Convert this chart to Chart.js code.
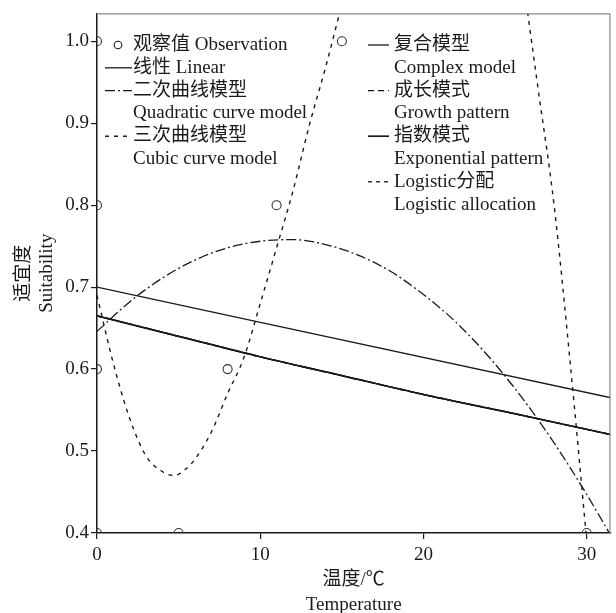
<!DOCTYPE html>
<html>
<head>
<meta charset="utf-8">
<script src="https://cdn.jsdelivr.net/npm/chart.js@4"></script>
<style>
html, body { margin: 0; padding: 0; background: #fff; }
#wrap { width: 616px; height: 613px; }
</style>
</head>
<body>
<div id="wrap"><canvas id="myChart"></canvas></div>
<script>
// observed suitability
var obsTemp = [0, 0, 0, 0, 5, 8, 11, 15, 30];
var obsSuit = [1.0, 0.8, 0.6, 0.4, 0.4, 0.6, 0.8, 1.0, 0.4];

// linear fit
var linTemp = [0, 31.5];
var linSuit = [0.700, 0.565];

// quadratic fit
var quadTemp = [0, 2, 4, 6, 8, 10, 12, 14, 16, 18, 20, 22, 24, 26, 28, 30, 31.5];
var quadSuit = [0.646, 0.682, 0.711, 0.733, 0.748, 0.756, 0.758, 0.752, 0.739, 0.719, 0.691, 0.657, 0.615, 0.566, 0.510, 0.447, 0.396];

// cubic fit (null where it is above the frame)
var cubTemp = [0, 1, 2, 3, 4, 4.7, 5.5, 6, 7, 8, 9, 10, 11, 12, 13, 14, 15, 16, 21, 26, 27, 28, 29, 30, 30.5];
var cubSuit = [0.690, 0.607, 0.540, 0.494, 0.475, 0.470, 0.479, 0.490, 0.523, 0.570, 0.614, 0.680, 0.748, 0.817, 0.897, 0.968, 1.045, 1.12, null, 1.09, 0.945, 0.80, 0.605, 0.39, 0.28];

// complex / growth / exponential / logistic (all on top of each other)
var expTemp = [0, 5, 10, 15, 20, 25, 31.5];
var expSuit = [0.665, 0.640, 0.615, 0.592, 0.569, 0.548, 0.520];

var xTicks = [0, 10, 20, 30];
var yTicks = [0.4, 0.5, 0.6, 0.7, 0.8, 0.9, 1.0];

var legendCn = ['观察值 Observation', '线性 Linear', '二次曲线模型', '三次曲线模型', '复合模型', '成长模式', '指数模式', 'Logistic分配'];
var legendEn = ['', '', 'Quadratic curve model', 'Cubic curve model', 'Complex model', 'Growth pattern', 'Exponential pattern', 'Logistic allocation'];

function pts(xs, ys) {
    return xs.map(function (x, i) { return {x: x, y: ys[i]}; });
}

var serif = '"Liberation Serif", "Noto Sans CJK SC", serif';
var ink = '#1a1a1a';

function curve(label, xs, ys, dash, width) {
    return {
        label: label,
        data: pts(xs, ys),
        showLine: true,
        borderColor: ink,
        backgroundColor: ink,
        borderWidth: width,
        borderDash: dash,
        pointRadius: 0,
        pointHoverRadius: 0,
        cubicInterpolationMode: 'monotone',
        spanGaps: false
    };
}

var data = {
    datasets: [
        {
            label: legendCn[0],
            data: pts(obsTemp, obsSuit),
            pointStyle: 'circle',
            pointRadius: 4.5,
            borderWidth: 1.1,
            borderColor: '#333',
            backgroundColor: 'rgba(255,255,255,0)'
        },
        curve(legendCn[1], linTemp, linSuit, [], 1.3),
        curve(legendCn[2], quadTemp, quadSuit, [10, 3, 2, 3], 1.3),
        curve(legendCn[3], cubTemp, cubSuit, [4, 5], 1.4),
        curve(legendCn[4], expTemp, expSuit, [], 1.3),
        curve(legendCn[5], expTemp, expSuit, [6, 4], 1.3),
        curve(legendCn[6], expTemp, expSuit, [], 1.7),
        curve(legendCn[7], expTemp, expSuit, [4, 4], 1.3)
    ]
};

// legend placement: symbol start, text start, row index
var legendPos = [
    {sx: 112, tx: 133, row: 0, col: 0},
    {sx: 105, tx: 133, row: 1, col: 0},
    {sx: 105, tx: 133, row: 2, col: 0},
    {sx: 105, tx: 133, row: 4, col: 0},
    {sx: 368, tx: 394, row: 0, col: 1},
    {sx: 368, tx: 394, row: 2, col: 1},
    {sx: 368, tx: 394, row: 4, col: 1},
    {sx: 368, tx: 394, row: 6, col: 1}
];

const framePlugin = {
    id: 'frameLegend',
    afterDraw: function (chart) {
        var ctx = chart.ctx;
        var a = chart.chartArea;
        ctx.save();
        // top and right frame
        ctx.strokeStyle = '#8a8a8a';
        ctx.lineWidth = 1.2;
        ctx.beginPath();
        ctx.moveTo(a.left, a.top + 0.5);
        ctx.lineTo(a.right - 0.5, a.top + 0.5);
        ctx.lineTo(a.right - 0.5, a.bottom);
        ctx.stroke();

        // legend
        ctx.font = '19px ' + serif;
        ctx.fillStyle = ink;
        ctx.textBaseline = 'middle';
        ctx.textAlign = 'left';
        chart.data.datasets.forEach(function (ds, i) {
            var p = legendPos[i];
            var y = 45 + p.row * 22.8;
            ctx.strokeStyle = ink;
            if (i === 0) {
                ctx.lineWidth = 1.1;
                ctx.setLineDash([]);
                ctx.beginPath();
                ctx.arc(118, y, 3.8, 0, Math.PI * 2);
                ctx.stroke();
            } else {
                ctx.lineWidth = ds.borderWidth;
                ctx.setLineDash(ds.borderDash);
                ctx.beginPath();
                ctx.moveTo(p.sx, y);
                ctx.lineTo(p.sx + (p.col === 0 ? 27 : 21), y);
                ctx.stroke();
            }
            ctx.fillText(legendCn[i], p.tx, y);
            if (legendEn[i]) {
                ctx.fillText(legendEn[i], p.tx, y + 22.8);
            }
        });
        ctx.restore();
    }
};

const config = {
    type: 'scatter',
    data: data,
    plugins: [framePlugin],
    options: {
        responsive: true,
        maintainAspectRatio: false,
        animation: false,
        layout: {padding: {top: 10, right: 3, left: 0, bottom: 0}},
        plugins: {
            legend: {display: false},
            tooltip: {enabled: false}
        },
        scales: {
            x: {
                type: 'linear',
                min: 0,
                max: 31.45,
                afterBuildTicks: function (s) { s.ticks = xTicks.map(function (v) { return {value: v}; }); },
                afterFit: function (s) { s.height = 80; },
                ticks: {
                    color: ink,
                    font: {family: serif, size: 19},
                    padding: 5,
                    maxRotation: 0
                },
                grid: {display: true, drawOnChartArea: false, drawTicks: true, tickLength: 6, color: ink, lineWidth: 1.2},
                border: {display: true, color: ink, width: 1.5},
                title: {
                    display: true,
                    text: ['温度/℃', 'Temperature'],
                    color: ink,
                    font: {family: serif, size: 19, lineHeight: 1.3},
                    padding: {top: 4, bottom: -4}
                }
            },
            y: {
                min: 0.4,
                max: 1.034,
                afterBuildTicks: function (s) { s.ticks = yTicks.map(function (v) { return {value: v}; }); },
                afterFit: function (s) { s.width = 97; },
                ticks: {
                    color: ink,
                    font: {family: serif, size: 19},
                    padding: 2,
                    callback: function (v) { return v.toFixed(1); }
                },
                grid: {display: true, drawOnChartArea: false, drawTicks: true, tickLength: 6, color: ink, lineWidth: 1.2},
                border: {display: true, color: ink, width: 1.5},
                title: {
                    display: true,
                    text: ['适宜度', 'Suitability'],
                    color: ink,
                    font: {family: serif, size: 19, lineHeight: 1.2},
                    padding: {top: 13, bottom: 0}
                }
            }
        }
    }
};

const myChart = new Chart(document.getElementById('myChart'), config);
</script>
</body>
</html>
